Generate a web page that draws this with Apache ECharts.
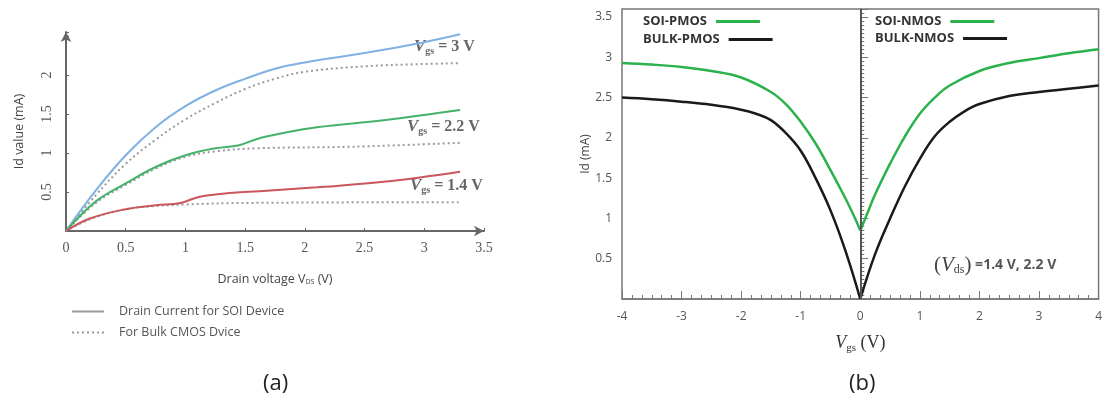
<!DOCTYPE html>
<html>
<head>
<meta charset="utf-8">
<script src="https://cdn.jsdelivr.net/npm/echarts@6/dist/echarts.min.js"></script>
<style>
  html, body { margin: 0; padding: 0; background: #fff; }
  #chart { width: 1105px; height: 406px; }
</style>
</head>
<body>
<div id="chart"></div>
<script>
const chart = echarts.init(document.getElementById("chart"));

// (a) drain current vs drain voltage, [Vds, Id]
const soi3 = [[0, 0], [0.25, 0.52], [0.5, 0.97], [0.75, 1.33], [1.0, 1.6], [1.25, 1.8], [1.5, 1.95], [1.75, 2.08], [2.0, 2.16], [2.5, 2.28], [3.0, 2.42], [3.3, 2.52]];
const bulk3 = [[0, 0], [0.25, 0.46], [0.5, 0.86], [0.75, 1.17], [1.0, 1.43], [1.25, 1.64], [1.5, 1.82], [1.75, 1.95], [2.0, 2.04], [2.5, 2.11], [3.0, 2.14], [3.3, 2.15]];
const soi22 = [[0, 0], [0.25, 0.38], [0.5, 0.61], [0.75, 0.82], [1.0, 0.97], [1.25, 1.06], [1.45, 1.1], [1.6, 1.18], [1.8, 1.25], [2.1, 1.33], [2.66, 1.42], [3.3, 1.55]];
const bulk22 = [[0, 0], [0.25, 0.36], [0.5, 0.59], [0.75, 0.8], [1.0, 0.95], [1.25, 1.02], [1.6, 1.06], [2.4, 1.08], [3.3, 1.13]];
const soi14 = [[0, 0], [0.2, 0.16], [0.5, 0.28], [0.75, 0.33], [0.96, 0.36], [1.12, 0.44], [1.4, 0.49], [1.62, 0.51], [2.1, 0.56], [2.66, 0.63], [3.3, 0.76]];
const bulk14 = [[0, 0], [0.2, 0.15], [0.5, 0.28], [0.75, 0.32], [1.0, 0.34], [1.54, 0.36], [3.3, 0.37]];
const xTicksA = [0, 0.5, 1, 1.5, 2, 2.5, 3, 3.5];

// (b) Id vs Vgs, [Vgs, Id]
const soiPmos = [[-4, 2.93], [-3.5, 2.91], [-3, 2.88], [-2.5, 2.83], [-2, 2.75], [-1.5, 2.57], [-1.25, 2.42], [-1, 2.2], [-0.75, 1.93], [-0.5, 1.6], [-0.25, 1.25], [-0.1, 1.02], [0, 0.85]];
const bulkPmos = [[-4, 2.5], [-3.5, 2.48], [-3, 2.45], [-2.5, 2.41], [-2, 2.35], [-1.75, 2.3], [-1.5, 2.22], [-1.25, 2.06], [-1, 1.84], [-0.75, 1.5], [-0.5, 1.1], [-0.25, 0.6], [0, 0]];
const soiNmos = [[0, 0.85], [0.1, 1.03], [0.25, 1.3], [0.5, 1.68], [0.75, 2.02], [1, 2.3], [1.25, 2.5], [1.5, 2.65], [2, 2.83], [2.5, 2.93], [3, 2.99], [3.5, 3.05], [4, 3.1]];
const bulkNmos = [[0, 0], [0.25, 0.56], [0.5, 1.0], [0.75, 1.4], [1, 1.74], [1.25, 2.02], [1.5, 2.2], [1.75, 2.33], [2, 2.42], [2.5, 2.52], [3, 2.57], [3.5, 2.61], [4, 2.65]];

const gray = "#666";
const sans = "'Open Sans', 'Liberation Sans', sans-serif";
const serif = "'Liberation Serif', 'DejaVu Serif', serif";

function vgsLabel(val) {
    return {
        type: "text",
        style: {
            text: "{v|V}{s|gs}{t| = " + val + "}",
            rich: {
                v: { fontFamily: serif, fontStyle: "italic", fontWeight: "bold", fontSize: 17, fill: "#666" },
                s: { fontFamily: serif, fontWeight: "bold", fontSize: 10, fill: "#666", padding: [10, 0, 0, 0] },
                t: { fontFamily: serif, fontWeight: "bold", fontSize: 16, fill: "#666" }
            }
        }
    };
}

function line(name, data, color, dotted, grid, width) {
    return {
        name: name,
        type: "line",
        xAxisIndex: grid,
        yAxisIndex: grid,
        data: data,
        symbol: "none",
        smooth: 0.4,
        lineStyle: { color: color, width: width || 2, type: dotted ? [2, 3] : "solid" },
        itemStyle: { color: color },
        z: dotted ? 2 : 3
    };
}

// one legend per entry on (b), so the text stays left aligned and the line follows it
function rightLegend(name, left, top) {
    return {
        data: [name],
        left: left,
        top: top,
        align: "right",
        itemWidth: 44,
        itemHeight: 8,
        padding: 0,
        itemStyle: { opacity: 0 },
        lineStyle: { width: 3 },
        textStyle: { fontFamily: sans, fontWeight: "bold", fontSize: 13, color: "#333", padding: [0, 4, 0, 0] }
    };
}

const option = {
    animation: false,
    title: [
        { text: "(a)", left: 258, top: 368, textStyle: { fontFamily: sans, fontWeight: "normal", fontSize: 22, color: "#222" } },
        { text: "(b)", left: 844, top: 368, textStyle: { fontFamily: sans, fontWeight: "normal", fontSize: 22, color: "#222" } }
    ],
    legend: [
        {
            data: ["Drain Current for SOI Device", "For Bulk CMOS Dvice"],
            orient: "vertical",
            left: 66,
            top: 300,
            itemWidth: 32,
            itemHeight: 8,
            itemGap: 8,
            itemStyle: { opacity: 0 },
            textStyle: { fontFamily: sans, fontSize: 12.5, color: "#555", padding: [0, 0, 0, 10] }
        },
        rightLegend("SOI-PMOS", 643, 15),
        rightLegend("BULK-PMOS", 643, 33),
        rightLegend("SOI-NMOS", 875, 15),
        rightLegend("BULK-NMOS", 875, 32)
    ],
    grid: [
        { left: 66, top: 32, width: 418, height: 199 },
        { left: 622, top: 9, width: 478, height: 290, show: true, borderColor: "#777", borderWidth: 1.5 }
    ],
    xAxis: [
        {
            gridIndex: 0,
            type: "value",
            min: xTicksA[0],
            max: xTicksA[xTicksA.length - 1],
            interval: 0.5,
            splitLine: { show: false },
            axisLine: { lineStyle: { color: gray, width: 2 }, symbol: ["none", "arrow"], symbolSize: [8, 10] },
            axisTick: { inside: true, length: 3, lineStyle: { color: gray } },
            axisLabel: { fontFamily: serif, fontSize: 14, color: "#555", margin: 10 },
            name: "{a|Drain voltage V}{b|DS}{a| (V)}",
            nameLocation: "middle",
            nameGap: 42,
            nameTextStyle: {
                rich: {
                    a: { fontFamily: sans, fontSize: 12.5, color: "#444" },
                    b: { fontFamily: sans, fontSize: 7, color: "#444", padding: [4, 0, 0, 0] }
                }
            }
        },
        {
            gridIndex: 1,
            type: "value",
            min: -4,
            max: 4,
            interval: 1,
            splitLine: { show: false },
            axisLine: { onZero: false, lineStyle: { color: "#777", width: 1.5 } },
            axisTick: { inside: true, length: 8, lineStyle: { color: "#777" } },
            minorTick: { show: true, splitNumber: 6, length: 4, lineStyle: { color: "#777" } },
            axisLabel: { fontFamily: sans, fontSize: 12, color: "#555", margin: 12 },
            name: "{v|V}{s|gs}{t| (V)}",
            nameLocation: "middle",
            nameGap: 34,
            nameTextStyle: {
                rich: {
                    v: { fontFamily: serif, fontStyle: "italic", fontSize: 18, color: "#333" },
                    s: { fontFamily: serif, fontSize: 11, color: "#333", padding: [10, 0, 0, 0] },
                    t: { fontFamily: serif, fontSize: 18, color: "#333" }
                }
            }
        }
    ],
    yAxis: [
        {
            gridIndex: 0,
            type: "value",
            min: 0,
            max: 2.55,
            interval: 0.5,
            splitLine: { show: false },
            axisLine: { lineStyle: { color: gray, width: 2 }, symbol: ["none", "arrow"], symbolSize: [8, 10] },
            axisTick: { inside: true, length: 3, lineStyle: { color: gray } },
            axisLabel: {
                rotate: 90,
                fontFamily: serif,
                fontSize: 14,
                color: "#555",
                margin: 12,
                formatter: v => (v > 0 && v <= 2 ? String(v) : "")
            },
            name: "Id value (mA)",
            nameLocation: "middle",
            nameRotate: 90,
            nameGap: 40,
            nameTextStyle: { fontFamily: sans, fontSize: 12.5, color: "#444" }
        },
        {
            gridIndex: 1,
            type: "value",
            min: 0,
            max: 3.6,
            interval: 0.5,
            splitLine: { show: false },
            axisLine: { lineStyle: { color: "#777", width: 1.5 } },
            axisTick: { inside: true, length: 8, lineStyle: { color: "#777" } },
            minorTick: { show: true, splitNumber: 10, length: 4, lineStyle: { color: "#777" } },
            axisLabel: {
                fontFamily: sans,
                fontSize: 12,
                color: "#555",
                margin: 10,
                formatter: v => (v > 0 && Math.abs(v * 2 - Math.round(v * 2)) < 1e-6 ? String(v) : "")
            },
            name: "Id (mA)",
            nameLocation: "middle",
            nameRotate: 90,
            nameGap: 25,
            nameTextStyle: { fontFamily: sans, fontSize: 12, color: "#444" }
        }
    ],
    graphic: [
        Object.assign(vgsLabel("3 V"), { left: 414, top: 38 }),
        Object.assign(vgsLabel("2.2 V"), { left: 407, top: 118 }),
        Object.assign(vgsLabel("1.4 V"), { left: 410, top: 177 }),
        {
            type: "text",
            left: 934,
            top: 255,
            style: {
                text: "{p|(}{v|V}{s|ds}{p|)}{t| =1.4 V, 2.2 V}",
                rich: {
                    p: { fontFamily: serif, fontSize: 21, fill: "#444" },
                    v: { fontFamily: serif, fontStyle: "italic", fontSize: 21, fill: "#444" },
                    s: { fontFamily: serif, fontSize: 12, fill: "#444", padding: [9, 0, 0, 0] },
                    t: { fontFamily: sans, fontSize: 14, fontWeight: "bold", fill: "#555" }
                }
            }
        }
    ],
    series: [
        line("Vgs 3 V SOI", soi3, "#7fb1e3", false, 0),
        line("Vgs 3 V bulk", bulk3, "#9a9a9a", true, 0),
        line("Vgs 2.2 V SOI", soi22, "#45b26b", false, 0),
        line("Vgs 2.2 V bulk", bulk22, "#9a9a9a", true, 0),
        line("Vgs 1.4 V SOI", soi14, "#c9575c", false, 0),
        line("Vgs 1.4 V bulk", bulk14, "#9a9a9a", true, 0),
        line("Drain Current for SOI Device", [], "#999", false, 0, 1.5),
        line("For Bulk CMOS Dvice", [], "#999", true, 0, 1.5),
        line("SOI-PMOS", soiPmos, "#2bb24c", false, 1, 2.5),
        line("BULK-PMOS", bulkPmos, "#1a1a1a", false, 1, 2.5),
        Object.assign(line("SOI-NMOS", soiNmos, "#2bb24c", false, 1, 2.5), {
            markLine: {
                silent: true,
                symbol: ["none", "none"],
                label: { show: false },
                lineStyle: { color: "#555", width: 2, type: "solid" },
                data: [{ xAxis: 0 }]
            }
        }),
        line("BULK-NMOS", bulkNmos, "#1a1a1a", false, 1, 2.5)
    ]
};

chart.setOption(option);
window.addEventListener("resize", () => chart.resize());
</script>
</body>
</html>
